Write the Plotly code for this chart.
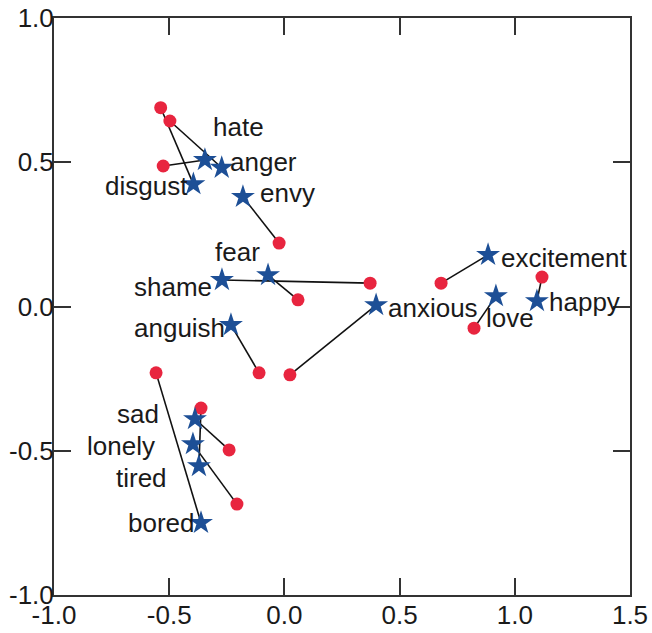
import plotly.graph_objects as go

words = ["hate", "anger", "disgust", "envy", "fear", "shame", "anguish", "anxious",
         "excitement", "love", "happy", "sad", "lonely", "tired", "bored"]
star_x = [-0.345, -0.272, -0.395, -0.180, -0.071, -0.271, -0.232, 0.398,
          0.884, 0.918, 1.096, -0.388, -0.397, -0.371, -0.362]
star_y = [0.508, 0.481, 0.424, 0.380, 0.109, 0.092, -0.064, 0.005,
          0.179, 0.036, 0.019, -0.390, -0.477, -0.553, -0.750]
circle_x = [-0.526, -0.497, -0.537, -0.023, 0.059, 0.372, -0.110, 0.024,
            0.680, 0.823, 1.118, -0.240, -0.206, -0.362, -0.557]
circle_y = [0.487, 0.643, 0.689, 0.220, 0.023, 0.081, -0.230, -0.237,
            0.081, -0.075, 0.102, -0.497, -0.685, -0.352, -0.230]
x_ticks = [-1.0, -0.5, 0.0, 0.5, 1.0, 1.5]
x_tick_labels = ["-1.0", "-0.5", "0.0", "0.5", "1.0", "1.5"]
y_ticks = [-1.0, -0.5, 0.0, 0.5, 1.0]
y_tick_labels = ["-1.0", "-0.5", "0.0", "0.5", "1.0"]

# label offsets (pixels) from each star: (xshift, yshift)
label_shift = [(34, 33), (42, 6), (-47, -2), (45, 4), (-31, 23), (-49, -7), (-51, -3), (57, -3),
               (76, -3), (14, -22), (48, -1), (-57, 5), (-72, -2), (-57, -12), (-40, 0)]

lx, ly = [], []
for sx, sy, cx, cy in zip(star_x, star_y, circle_x, circle_y):
    lx += [cx, sx, None]
    ly += [cy, sy, None]

fig = go.Figure()
fig.add_trace(go.Scatter(x=lx, y=ly, mode="lines",
                         line=dict(color="#111111", width=1.6), hoverinfo="skip"))
fig.add_trace(go.Scatter(x=circle_x, y=circle_y, mode="markers",
                         marker=dict(symbol="circle", size=13, color="#e8253f",
                                     line=dict(width=0))))
fig.add_trace(go.Scatter(x=star_x, y=star_y, mode="markers", text=words,
                         marker=dict(symbol="star", size=18, color="#1d4f96",
                                     line=dict(width=0))))

for w, sx, sy, (dx, dy) in zip(words, star_x, star_y, label_shift):
    fig.add_annotation(x=sx, y=sy, text=w, showarrow=False, xshift=dx, yshift=dy,
                       xanchor="center", yanchor="middle",
                       font=dict(family="Liberation Sans, Arial", size=26, color="#1a1a1a"))

axis_common = dict(showgrid=False, zeroline=False, showline=True, linecolor="#333333",
                   linewidth=2, mirror="ticks", ticks="inside", ticklen=17, tickwidth=2,
                   tickcolor="#333333", automargin=False,
                   tickfont=dict(family="Liberation Sans, Arial", size=26, color="#1a1a1a"))

fig.update_xaxes(range=[-1.0, 1.5], tickvals=x_ticks, ticktext=x_tick_labels,
                 ticklabelstandoff=-4, **axis_common)
fig.update_yaxes(range=[-1.0, 1.0], tickvals=y_ticks, ticktext=y_tick_labels,
                 ticklabelstandoff=-7, **axis_common)

fig.update_layout(width=652, height=633, showlegend=False,
                  margin=dict(l=54, r=22, t=18, b=38),
                  paper_bgcolor="white", plot_bgcolor="white")

fig.write_html("out.html", config={"displayModeBar": False},
               post_script="document.body.style.margin='0';document.body.style.overflow='hidden';")
